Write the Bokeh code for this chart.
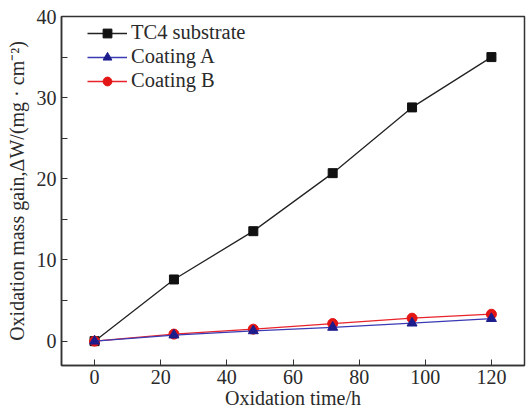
from bokeh.plotting import figure
from bokeh.models import Range1d, Legend, LegendItem, FixedTicker
from bokeh.embed import file_html
from bokeh.resources import INLINE

# Oxidation time (h) and mass gain (mg/cm^2)
time_h = [0, 24, 48, 72, 96, 120]
tc4_substrate = [0.0, 7.6, 13.55, 20.7, 28.8, 35.0]
coating_a = [0.0, 0.75, 1.27, 1.70, 2.22, 2.78]
coating_b = [0.0, 0.87, 1.48, 2.17, 2.83, 3.32]

x_ticks = [0, 20, 40, 60, 80, 100, 120]
y_ticks = [0, 10, 20, 30, 40]
y_minor = [5, 15, 25, 35]

FONT = "Liberation Serif"
FS = "20px"

p = figure(width=529, height=411, output_backend="svg", toolbar_location=None,
           x_range=Range1d(-10, 130), y_range=Range1d(-3, 40),
           min_border_left=61, min_border_right=5, min_border_top=16, min_border_bottom=46)

p.xgrid.visible = False
p.ygrid.visible = False
p.outline_line_color = "#333333"
p.outline_line_width = 1.5
p.background_fill_color = "white"
p.border_fill_color = "white"

for ax in (p.xaxis[0], p.yaxis[0]):
    ax.major_label_text_font = FONT
    ax.major_label_text_font_size = FS
    ax.major_label_text_color = "#2a2a2a"
    ax.axis_label_text_font = FONT
    ax.axis_label_text_font_size = FS
    ax.axis_label_text_font_style = "normal"
    ax.axis_label_text_color = "#2a2a2a"
    ax.axis_line_color = "#333333"
    ax.axis_line_width = 1.5
    ax.major_tick_line_color = "#333333"
    ax.minor_tick_line_color = "#333333"
    ax.major_tick_in = 6
    ax.major_tick_out = 0
    ax.minor_tick_in = 6
    ax.minor_tick_out = 0

p.xaxis.ticker = FixedTicker(ticks=x_ticks)
p.yaxis.ticker = FixedTicker(ticks=y_ticks, minor_ticks=y_minor)
p.xaxis.axis_label = "Oxidation time/h"
p.yaxis.axis_label = "Oxidation mass gain,\u0394W/(mg \u00b7 cm\u207b\u00b2)"
p.xaxis.major_label_standoff = 4
p.xaxis.axis_label_standoff = 0
p.yaxis.major_label_standoff = 5
p.yaxis.axis_label_standoff = 6

# Series
l1 = p.line(time_h, tc4_substrate, line_color="#222222", line_width=1.3)
m1 = p.scatter(time_h, tc4_substrate, marker="square", size=9,
               fill_color="#111111", line_color="#111111")
l3 = p.line(time_h, coating_b, line_color="#e8232a", line_width=1.3)
m3 = p.scatter(time_h, coating_b, marker="circle", size=10,
               fill_color="#e31515", line_color="#e31515")
l2 = p.line(time_h, coating_a, line_color="#3a3ab5", line_width=1.3)
m2 = p.scatter(time_h, coating_a, marker="triangle", size=10,
               fill_color="#1c1c8c", line_color="#1c1c8c")

legend = Legend(items=[
    LegendItem(label="TC4 substrate", renderers=[l1, m1]),
    LegendItem(label="Coating A", renderers=[l2, m2]),
    LegendItem(label="Coating B", renderers=[l3, m3]),
], location=(26, 273))
legend.border_line_color = None
legend.background_fill_alpha = 0
legend.label_text_font = FONT
legend.label_text_font_size = "20.5px"
legend.label_text_color = "#2a2a2a"
legend.glyph_width = 40
legend.glyph_height = 22
legend.label_height = 22
legend.label_standoff = 4
legend.spacing = 1
legend.padding = 0
legend.margin = 0
p.add_layout(legend)

open("out.html", "w").write(file_html(p, INLINE))
